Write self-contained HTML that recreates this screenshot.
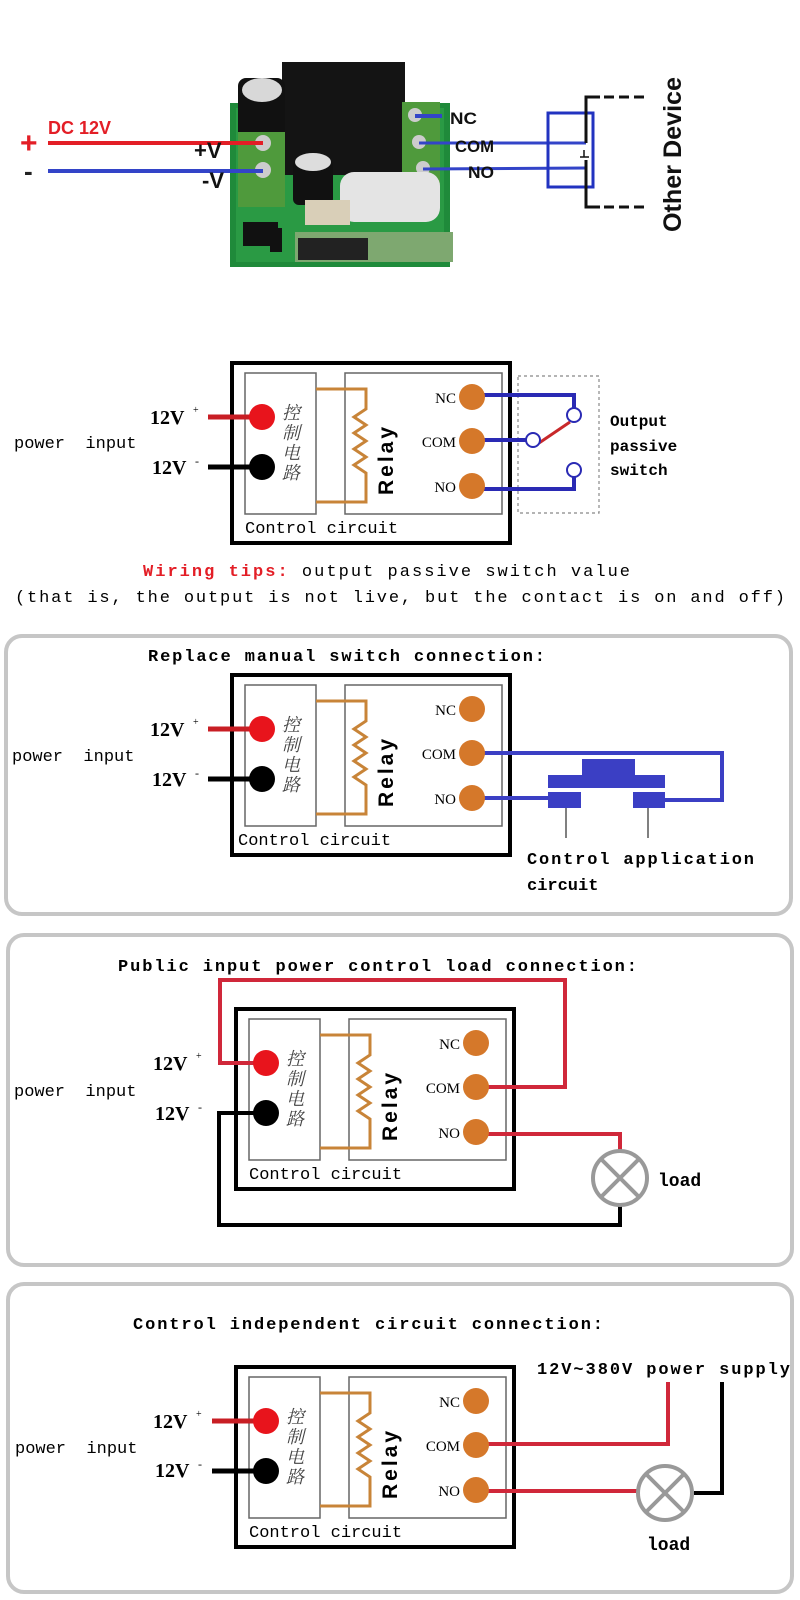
<!DOCTYPE html>
<html><head><meta charset="utf-8"><style>
html,body{margin:0;padding:0;background:#fff;width:800px;height:1600px;overflow:hidden}
svg{display:block}
.mono{font-family:"Liberation Mono","DejaVu Sans Mono",monospace}
.serif{font-family:"Liberation Serif",serif}
.sans{font-family:"Liberation Sans",sans-serif}
.cjk{font-family:"Noto Serif CJK SC","Noto Sans CJK SC",serif}
</style></head><body>
<svg width="800" height="1600" viewBox="0 0 800 1600" xmlns="http://www.w3.org/2000/svg">
<defs>
<g id="relay">
  <rect x="0" y="0" width="278" height="180" fill="#fff" stroke="#000" stroke-width="4"/>
  <rect x="13" y="10" width="71" height="141" fill="none" stroke="#666" stroke-width="1.5"/>
  <rect x="113" y="10" width="157" height="141" fill="none" stroke="#666" stroke-width="1.5"/>
  <path d="M84,26 H134 V46 l-12,8 l12,8 l-12,8 l12,8 l-12,8 l12,8 l-12,8 l12,8 V139 H84" fill="none" stroke="#c88438" stroke-width="3"/>
</g>
<g id="dots">
  <circle cx="30" cy="54" r="13" fill="#e8141c"/>
  <circle cx="30" cy="104" r="13" fill="#000"/>
  <circle cx="240" cy="34" r="13" fill="#d5782a"/>
  <circle cx="240" cy="78" r="13" fill="#d5782a"/>
  <circle cx="240" cy="123" r="13" fill="#d5782a"/>
</g>
</defs>

<!-- ===== Top photo section ===== -->
<rect x="230" y="103" width="220" height="164" fill="#1f8a3a"/>
<rect x="236" y="108" width="208" height="154" fill="#2a9a44"/>
<rect x="282" y="62" width="123" height="113" fill="#141414"/>
<rect x="238" y="78" width="47" height="64" rx="8" fill="#111"/>
<ellipse cx="262" cy="90" rx="20" ry="12" fill="#d8d8d8"/>
<rect x="238" y="132" width="47" height="75" fill="#4f9a3c"/>
<rect x="402" y="102" width="38" height="91" fill="#4f9a3c"/>
<circle cx="263" cy="143" r="8" fill="#ccc"/>
<circle cx="263" cy="170" r="8" fill="#ccc"/>
<circle cx="415" cy="115" r="7" fill="#ccc"/>
<circle cx="419" cy="142" r="7" fill="#ccc"/>
<circle cx="423" cy="168" r="7" fill="#ccc"/>
<rect x="293" y="160" width="40" height="45" rx="6" fill="#111"/>
<ellipse cx="313" cy="162" rx="18" ry="9" fill="#ddd"/>
<rect x="340" y="172" width="100" height="50" rx="14" fill="#e4e4e4"/>
<rect x="305" y="200" width="45" height="25" fill="#d9cfb8"/>
<rect x="295" y="232" width="158" height="30" fill="#7ea870"/>
<rect x="298" y="238" width="70" height="22" fill="#222"/>
<rect x="243" y="222" width="35" height="24" fill="#111"/>
<rect x="270" y="228" width="12" height="24" fill="#111"/>

<line x1="48" y1="143" x2="263" y2="143" stroke="#e31e26" stroke-width="4"/>
<line x1="48" y1="171" x2="263" y2="171" stroke="#3344c8" stroke-width="4"/>
<text x="20" y="153" class="sans" font-size="30" font-weight="bold" fill="#e31e26">+</text>
<text x="24" y="180" class="sans" font-size="26" font-weight="bold" fill="#222">-</text>
<text x="48" y="134" class="sans" font-size="18" font-weight="bold" fill="#e31e26">DC 12V</text>
<text x="194" y="158" class="sans" font-size="22" font-weight="bold" fill="#111">+V</text>
<text x="202" y="188" class="sans" font-size="22" font-weight="bold" fill="#111">-V</text>

<line x1="415" y1="116" x2="442" y2="116" stroke="#3344c8" stroke-width="4"/>
<line x1="419" y1="143" x2="586" y2="143" stroke="#3344c8" stroke-width="3"/>
<line x1="423" y1="169" x2="586" y2="168" stroke="#3344c8" stroke-width="3"/>
<text x="450" y="124" class="sans" font-size="17" font-weight="bold" fill="#111" textLength="27" lengthAdjust="spacingAndGlyphs">NC</text>
<text x="455" y="152" class="sans" font-size="17" font-weight="bold" fill="#111" textLength="39" lengthAdjust="spacingAndGlyphs">COM</text>
<text x="468" y="178" class="sans" font-size="17" font-weight="bold" fill="#111" textLength="26" lengthAdjust="spacingAndGlyphs">NO</text>
<rect x="548" y="113" width="45" height="74" fill="none" stroke="#2233c0" stroke-width="3"/>
<path d="M600,97 H586 V143 M586,160 V207 H600" fill="none" stroke="#111" stroke-width="3"/>
<path d="M604,97 H648 M604,207 H648" stroke="#111" stroke-width="3" stroke-dasharray="10,5"/>
<path d="M580,157 H589 M584,150 V157" stroke="#111" stroke-width="1.5"/>
<text transform="translate(681,232) rotate(-90)" class="sans" font-size="25" font-weight="bold" fill="#111" textLength="155" lengthAdjust="spacingAndGlyphs">Other Device</text>

<!-- panels -->
<rect x="6" y="636" width="785" height="278" rx="16" fill="none" stroke="#c6c6c6" stroke-width="4"/>
<rect x="8" y="935" width="784" height="330" rx="16" fill="none" stroke="#c6c6c6" stroke-width="4"/>
<rect x="8" y="1284" width="784" height="308" rx="16" fill="none" stroke="#c6c6c6" stroke-width="4"/>

<!-- relay bodies -->
<use href="#relay" transform="translate(232,363)"/>
<use href="#relay" transform="translate(232,675)"/>
<use href="#relay" transform="translate(236,1009)"/>
<use href="#relay" transform="translate(236,1367)"/>

<!-- ===== Section 2 wires ===== -->
<line x1="208" y1="417" x2="262" y2="417" stroke="#c81e24" stroke-width="5"/>
<line x1="208" y1="467" x2="262" y2="467" stroke="#000" stroke-width="5"/>
<rect x="518" y="376" width="81" height="137" fill="none" stroke="#888" stroke-width="1.2" stroke-dasharray="3,3"/>
<path d="M472,395 H574 V408" fill="none" stroke="#2a2ab4" stroke-width="4"/>
<path d="M472,440 H526" fill="none" stroke="#2a2ab4" stroke-width="4"/>
<path d="M472,489 H574 V477" fill="none" stroke="#2a2ab4" stroke-width="4"/>
<line x1="539" y1="443" x2="570" y2="422" stroke="#c8282a" stroke-width="3"/>
<circle cx="574" cy="415" r="7" fill="#fff" stroke="#2a2ab4" stroke-width="2"/>
<circle cx="533" cy="440" r="7" fill="#fff" stroke="#2a2ab4" stroke-width="2"/>
<circle cx="574" cy="470" r="7" fill="#fff" stroke="#2a2ab4" stroke-width="2"/>
<text x="610" y="426" class="mono" font-size="16" font-weight="bold">Output</text>
<text x="610" y="451" class="mono" font-size="16" font-weight="bold">passive</text>
<text x="610" y="475" class="mono" font-size="16" font-weight="bold">switch</text>
<text x="150" y="424" class="serif" font-size="20" font-weight="bold">12V</text><text x="193" y="413" class="serif" font-size="10">+</text>
<text x="152" y="474" class="serif" font-size="20" font-weight="bold">12V</text><text x="195" y="465" class="serif" font-size="12">-</text>
<text x="14" y="448" class="mono" font-size="17" xml:space="preserve">power  input</text>

<text x="143" y="576" class="mono" font-size="17" textLength="487" lengthAdjust="spacing"><tspan fill="#e31e26" font-weight="bold">Wiring tips:</tspan> output passive switch value</text>
<text x="15" y="602" class="mono" font-size="17" textLength="770" lengthAdjust="spacing">(that is, the output is not live, but the contact is on and off)</text>

<!-- ===== Section 3 ===== -->
<text x="148" y="661" class="mono" font-size="17" font-weight="bold" textLength="397" lengthAdjust="spacing">Replace manual switch connection:</text>
<line x1="208" y1="729" x2="262" y2="729" stroke="#c81e24" stroke-width="5"/>
<line x1="208" y1="779" x2="262" y2="779" stroke="#000" stroke-width="5"/>
<path d="M472,753 H722 V800 H665" fill="none" stroke="#3b3fc4" stroke-width="4"/>
<path d="M472,798 H548" fill="none" stroke="#3b3fc4" stroke-width="4"/>
<rect x="582" y="759" width="53" height="17" fill="#3b3fc4"/>
<rect x="548" y="775" width="117" height="13" fill="#3b3fc4"/>
<rect x="548" y="792" width="33" height="16" fill="#3b3fc4"/>
<rect x="633" y="792" width="32" height="16" fill="#3b3fc4"/>
<line x1="566" y1="808" x2="566" y2="838" stroke="#000" stroke-width="1"/>
<line x1="648" y1="808" x2="648" y2="838" stroke="#000" stroke-width="1"/>
<text x="527" y="864" class="mono" font-size="17" font-weight="bold" textLength="227" lengthAdjust="spacing">Control application</text>
<text x="527" y="890" class="mono" font-size="17" font-weight="bold">circuit</text>
<text x="150" y="736" class="serif" font-size="20" font-weight="bold">12V</text><text x="193" y="725" class="serif" font-size="10">+</text>
<text x="152" y="786" class="serif" font-size="20" font-weight="bold">12V</text><text x="195" y="777" class="serif" font-size="12">-</text>
<text x="12" y="761" class="mono" font-size="17" xml:space="preserve">power  input</text>

<!-- ===== Section 4 ===== -->
<text x="118" y="971" class="mono" font-size="17" font-weight="bold" textLength="519" lengthAdjust="spacing">Public input power control load connection:</text>
<path d="M266,1063 H220 V980 H565 V1087 H479" fill="none" stroke="#d0283a" stroke-width="4"/>
<path d="M479,1134 H620 V1150" fill="none" stroke="#d0283a" stroke-width="4"/>
<path d="M266,1113 H219 V1225 H620 V1206" fill="none" stroke="#000" stroke-width="4"/>
<circle cx="620" cy="1178" r="27" fill="#fff" stroke="#999" stroke-width="4"/>
<path d="M601,1159 L639,1197 M639,1159 L601,1197" stroke="#999" stroke-width="4"/>
<text x="658" y="1186" class="mono" font-size="18" font-weight="bold">load</text>
<text x="153" y="1070" class="serif" font-size="20" font-weight="bold">12V</text><text x="196" y="1059" class="serif" font-size="10">+</text>
<text x="155" y="1120" class="serif" font-size="20" font-weight="bold">12V</text><text x="198" y="1111" class="serif" font-size="12">-</text>
<text x="14" y="1096" class="mono" font-size="17" xml:space="preserve">power  input</text>

<!-- ===== Section 5 ===== -->
<text x="133" y="1329" class="mono" font-size="17" font-weight="bold" textLength="470" lengthAdjust="spacing">Control independent circuit connection:</text>
<text x="537" y="1374" class="mono" font-size="17" font-weight="bold" textLength="253" lengthAdjust="spacing">12V~380V power supply</text>
<line x1="212" y1="1421" x2="266" y2="1421" stroke="#c81e24" stroke-width="5"/>
<line x1="212" y1="1471" x2="266" y2="1471" stroke="#000" stroke-width="5"/>
<path d="M668,1382 V1444 H479" fill="none" stroke="#d0283a" stroke-width="4"/>
<path d="M479,1491 H637" fill="none" stroke="#d0283a" stroke-width="4"/>
<path d="M694,1493 H722 V1382" fill="none" stroke="#000" stroke-width="4"/>
<circle cx="665" cy="1493" r="27" fill="#fff" stroke="#999" stroke-width="4"/>
<path d="M646,1474 L684,1512 M684,1474 L646,1512" stroke="#999" stroke-width="4"/>
<text x="647" y="1550" class="mono" font-size="18" font-weight="bold">load</text>
<text x="153" y="1428" class="serif" font-size="20" font-weight="bold">12V</text><text x="196" y="1417" class="serif" font-size="10">+</text>
<text x="155" y="1477" class="serif" font-size="20" font-weight="bold">12V</text><text x="198" y="1468" class="serif" font-size="12">-</text>
<text x="15" y="1453" class="mono" font-size="17" xml:space="preserve">power  input</text>

<!-- dots on top of wires -->
<use href="#dots" transform="translate(232,363)"/>
<use href="#dots" transform="translate(232,675)"/>
<use href="#dots" transform="translate(236,1009)"/>
<use href="#dots" transform="translate(236,1367)"/>

<!-- relay block texts -->
<g transform="translate(232,363)">
  <text transform="translate(161,132) rotate(-90)" class="sans" font-size="21" font-weight="bold" letter-spacing="3">Relay</text>
  <text x="50" y="56" class="cjk" font-size="18" font-style="italic" fill="#444">控</text>
  <text x="50" y="76" class="cjk" font-size="18" font-style="italic" fill="#444">制</text>
  <text x="50" y="96" class="cjk" font-size="18" font-style="italic" fill="#444">电</text>
  <text x="50" y="116" class="cjk" font-size="18" font-style="italic" fill="#444">路</text>
  <text x="224" y="40" class="serif" font-size="15" text-anchor="end">NC</text>
  <text x="224" y="84" class="serif" font-size="15" text-anchor="end">COM</text>
  <text x="224" y="129" class="serif" font-size="15" text-anchor="end">NO</text>
  <text x="13" y="170" class="mono" font-size="17">Control circuit</text>
</g>
<g transform="translate(232,675)">
  <text transform="translate(161,132) rotate(-90)" class="sans" font-size="21" font-weight="bold" letter-spacing="3">Relay</text>
  <text x="50" y="56" class="cjk" font-size="18" font-style="italic" fill="#444">控</text>
  <text x="50" y="76" class="cjk" font-size="18" font-style="italic" fill="#444">制</text>
  <text x="50" y="96" class="cjk" font-size="18" font-style="italic" fill="#444">电</text>
  <text x="50" y="116" class="cjk" font-size="18" font-style="italic" fill="#444">路</text>
  <text x="224" y="40" class="serif" font-size="15" text-anchor="end">NC</text>
  <text x="224" y="84" class="serif" font-size="15" text-anchor="end">COM</text>
  <text x="224" y="129" class="serif" font-size="15" text-anchor="end">NO</text>
  <text x="6" y="170" class="mono" font-size="17">Control circuit</text>
</g>
<g transform="translate(236,1009)">
  <text transform="translate(161,132) rotate(-90)" class="sans" font-size="21" font-weight="bold" letter-spacing="3">Relay</text>
  <text x="50" y="56" class="cjk" font-size="18" font-style="italic" fill="#444">控</text>
  <text x="50" y="76" class="cjk" font-size="18" font-style="italic" fill="#444">制</text>
  <text x="50" y="96" class="cjk" font-size="18" font-style="italic" fill="#444">电</text>
  <text x="50" y="116" class="cjk" font-size="18" font-style="italic" fill="#444">路</text>
  <text x="224" y="40" class="serif" font-size="15" text-anchor="end">NC</text>
  <text x="224" y="84" class="serif" font-size="15" text-anchor="end">COM</text>
  <text x="224" y="129" class="serif" font-size="15" text-anchor="end">NO</text>
  <text x="13" y="170" class="mono" font-size="17">Control circuit</text>
</g>
<g transform="translate(236,1367)">
  <text transform="translate(161,132) rotate(-90)" class="sans" font-size="21" font-weight="bold" letter-spacing="3">Relay</text>
  <text x="50" y="56" class="cjk" font-size="18" font-style="italic" fill="#444">控</text>
  <text x="50" y="76" class="cjk" font-size="18" font-style="italic" fill="#444">制</text>
  <text x="50" y="96" class="cjk" font-size="18" font-style="italic" fill="#444">电</text>
  <text x="50" y="116" class="cjk" font-size="18" font-style="italic" fill="#444">路</text>
  <text x="224" y="40" class="serif" font-size="15" text-anchor="end">NC</text>
  <text x="224" y="84" class="serif" font-size="15" text-anchor="end">COM</text>
  <text x="224" y="129" class="serif" font-size="15" text-anchor="end">NO</text>
  <text x="13" y="170" class="mono" font-size="17">Control circuit</text>
</g>
</svg>
</body></html>
